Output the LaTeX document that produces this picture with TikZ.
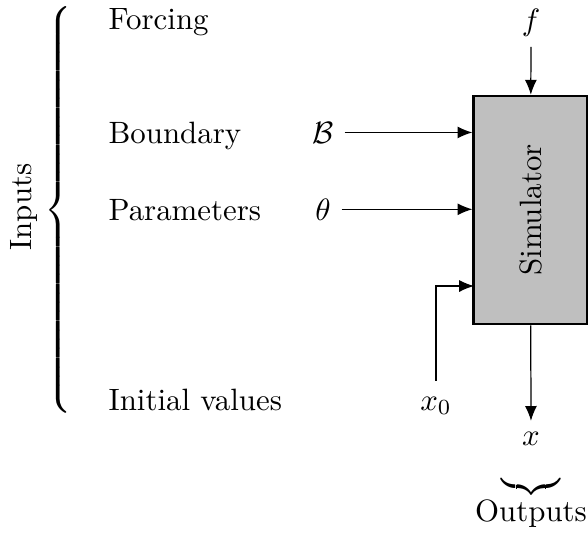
\documentclass[tikz,border=0pt]{standalone}
\usepackage{amsmath,amssymb}
\usepackage{tikz}
\usetikzlibrary{positioning,arrows.meta}

\tikzset{
  lbl/.style={anchor=base west, inner sep=0pt},
  sym/.style={anchor=base},
  simbox/.style={draw, thick, fill=gray!50, minimum width=36.9pt, minimum height=73.9pt},
  feed/.style={-{Latex[length=4.8pt, width=3.9pt]}}
}

\begin{document}
\begin{tikzpicture}[x=0.324pt, y=-0.324pt]
    \useasboundingbox (0,0) rectangle (588,536);

    % Inputs brace
    \node[rotate=90] (inputs) at (24, 207) {Inputs};
    \node[inner sep=0pt] (ibrace) at (60, 210) {$\left\{\rule[-63.5pt]{0pt}{132pt}\right.$};

    % Input labels
    \node[lbl] (forcing) at (108, 29) {Forcing};
    \node[lbl] (boundary) at (108, 143) {Boundary};
    \node[lbl] (params) at (108, 220) {Parameters};
    \node[lbl] (initial) at (108, 410) {Initial values};

    % Simulator
    \node[simbox] (sim) at (530.5, 210) {\rotatebox{90}{Simulator}};

    % Symbols
    \node[sym] (f) at (531, 30) {$f$};
    \node[sym] (bnd) at (323, 143) {$\mathcal{B}$};
    \node[sym] (theta) at (323, 220) {$\theta$};
    \node[sym, inner sep=5pt] (x0) at (436, 410) {$x_0$};
    \node[sym] (x) at (531, 445) {$x$};
    \coordinate (xin) at (474, 286);

    % Arrows into and out of the simulator
    \draw[feed] (f) -- (sim);
    \draw[feed] (bnd) -- (bnd -| sim.west);
    \draw[feed] (theta) -- (theta -| sim.west);
    \draw[feed] (x0) |- (xin);
    \draw[feed] (sim) -- (x);

    % Outputs brace
    \node[inner sep=0pt] (obrace) at (531, 487) {$\underbrace{\hspace{19pt}}$};
    \node[sym] (outputs) at (531, 521) {Outputs};
\end{tikzpicture}
\end{document}
